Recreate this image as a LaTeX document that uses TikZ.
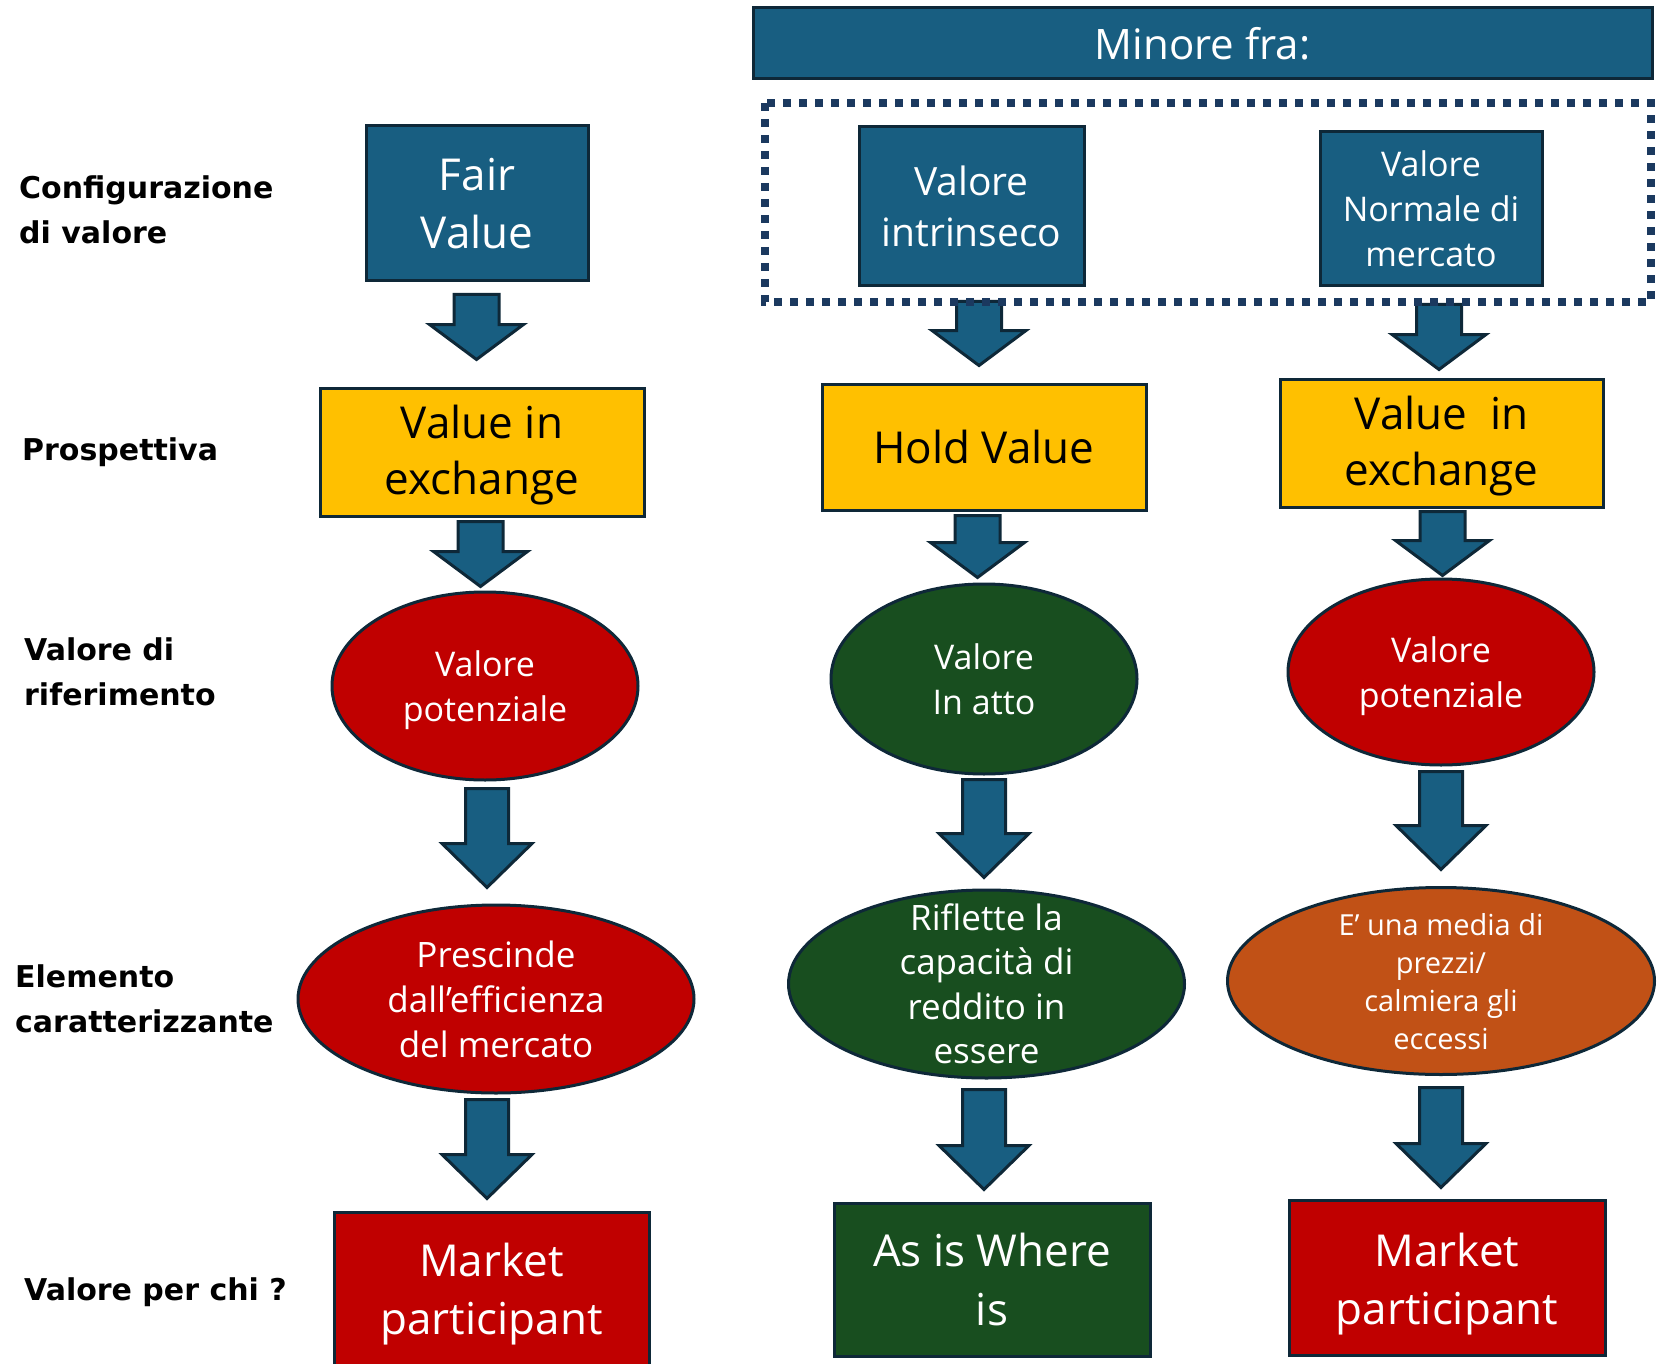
\documentclass[tikz,border=0pt]{standalone}
\usepackage{fontspec}
\setmainfont{Open Sans}
\newfontfamily\labfont{DejaVu Sans}
\usetikzlibrary{shapes.geometric,calc}

\definecolor{boxblue}{RGB}{24,94,129}
\definecolor{edge}{RGB}{14,40,56}
\definecolor{dotnavy}{RGB}{27,57,95}
\definecolor{gold}{RGB}{255,192,0}
\definecolor{deepred}{RGB}{192,0,0}
\definecolor{deepgreen}{RGB}{24,78,31}
\definecolor{burnt}{RGB}{193,81,22}

\newcommand\fs[2]{\fontsize{#1}{#2}\selectfont}

% block arrow pointing down: #1 top of shaft, #2 tip, #3 shaft half width,
% #4 head half width, #5 head length
\newcommand\blockarrow[5]{%
  \draw[barrow] let \p1=#1, \p2=#2 in
    (\x1-#3,\y1) -- (\x1+#3,\y1) -- (\x1+#3,\y2+#5) -- (\x1+#4,\y2+#5)
    -- (\x1,\y2) -- (\x1-#4,\y2+#5) -- (\x1-#3,\y2+#5) -- cycle;}

\begin{document}
\begin{tikzpicture}[x=1pt,y=-1pt,
  box/.style={draw=edge,line width=3pt,rectangle,inner sep=2pt,align=center},
  bluebox/.style={box,fill=boxblue,text=white},
  goldbox/.style={box,fill=gold,text=black,font=\fs{44}{56}},
  oval/.style={draw=edge,line width=3pt,ellipse,inner sep=0pt},
  ovaltext/.style={align=center,text=white,inner sep=0pt},
  barrow/.style={fill=boxblue,draw=edge,line width=3pt,line join=miter},
  rowlabel/.style={anchor=west,align=left,inner sep=0pt,font=\labfont\bfseries\fs{30}{45}}
]
\useasboundingbox (0,0) rectangle (1657,1364);
\clip (0,0) rectangle (1657,1364);

% row labels
\node[rowlabel] (lab1) at (19,209.5) {Configurazione\\di valore};
\node[rowlabel] (lab2) at (22,452) {Prospettiva};
\node[rowlabel] (lab3) at (24,671.5) {Valore di\\riferimento};
\node[rowlabel] (lab4) at (15,999) {Elemento\\caratterizzante};
\node[rowlabel] (lab5) at (24,1292) {Valore per chi ?};

% header
\node[bluebox,minimum width=899pt,minimum height=71pt,font=\fs{42}{50}]
  (title) at (1202.5,43.5) {Minore fra:};

% value configurations
\node[bluebox,minimum width=222pt,minimum height=155pt,font=\fs{44}{58}]
  (fair) at (477,203.5) {Fair\\Value};
\node[bluebox,minimum width=225pt,minimum height=159pt,font=\fs{39}{51}]
  (intr) at (971.5,206.5) {Valore\\intrinseco};
\node[bluebox,minimum width=222pt,minimum height=154pt,font=\fs{34}{45}]
  (norm) at (1431,209) {Valore\\Normale di\\mercato};

% perspectives
\node[goldbox,minimum width=324pt,minimum height=128pt] (pros1) at (482,452) {};
\node[ovaltext,text=black,font=\fs{44}{56}] (pros1t) at (482,455) {Value in\\exchange};
\node[goldbox,minimum width=324pt,minimum height=126pt] (pros2) at (984,447) {Hold Value};
\node[goldbox,minimum width=323pt,minimum height=128pt] (pros3) at (1441.5,443) {};
\node[ovaltext,text=black,font=\fs{44}{56}] (pros3t) at (1441.5,446.5) {Value~ in\\exchange};

% reference values
\node[oval,fill=deepred,minimum width=306pt,minimum height=188pt] (ref1) at (485,686) {};
\node[ovaltext,font=\fs{34}{45}] (ref1t) at ([yshift=-4pt]ref1.center) {Valore\\potenziale};
\node[oval,fill=deepgreen,minimum width=306pt,minimum height=190pt] (ref2) at (984,679) {};
\node[ovaltext,font=\fs{34}{45}] (ref2t) at (ref2.center) {Valore\\In atto};
\node[oval,fill=deepred,minimum width=306pt,minimum height=186pt] (ref3) at (1441,672) {};
\node[ovaltext,font=\fs{34}{45}] (ref3t) at ([yshift=-4pt]ref3.center) {Valore\\potenziale};

% characterising elements
\node[oval,fill=deepred,minimum width=396pt,minimum height=188pt] (car1) at (496,999) {};
\node[ovaltext,font=\fs{35}{45}] (car1t) at (car1.center) {Prescinde\\dall’efficienza\\del mercato};
\node[oval,fill=deepgreen,minimum width=396pt,minimum height=188pt] (car2) at (986.5,984) {};
\node[ovaltext,font=\fs{35}{44.5}] (car2t) at (car2.center) {Riflette la\\capacità di\\reddito in\\essere};
\node[oval,fill=burnt,minimum width=427pt,minimum height=187pt] (car3) at (1441,981) {};
\node[ovaltext,font=\fs{29}{38}] (car3t) at ([yshift=-1pt]car3.center) {E’ una media di\\prezzi/\\calmiera gli\\eccessi};

% for whom
\node[box,fill=deepred,minimum width=315pt,minimum height=163pt] (who1) at (491.5,1293.5) {};
\node[ovaltext,font=\fs{44}{58}] (who1t) at (491.5,1294.5) {Market\\participant};
\node[box,fill=deepgreen,text=white,minimum width=316pt,minimum height=153pt,font=\fs{44}{59}]
  (who2) at (992,1279.5) {As is Where\\is};
\node[box,fill=deepred,minimum width=316pt,minimum height=155pt] (who3) at (1447,1277.5) {};
\node[ovaltext,font=\fs{44}{58}] (who3t) at (1447,1284) {Market\\participant};

% arrows
\blockarrow{([xshift=-0.5pt,yshift=-12pt]fair.south)}{([yshift=27pt]pros1.north)}{22.5pt}{47pt}{35pt}
\blockarrow{([xshift=7.5pt,yshift=-14pt]intr.south)}{([yshift=17pt]pros2.north)}{22.5pt}{47pt}{35pt}
\blockarrow{([xshift=8pt,yshift=-17pt]norm.south)}{([yshift=8pt]pros3.north)}{22.5pt}{47pt}{35pt}

\blockarrow{([xshift=-1.5pt,yshift=-4pt]pros1.south)}{([yshift=4pt]ref1.north)}{22.5pt}{47pt}{35pt}
\blockarrow{([xshift=-6.5pt,yshift=-4pt]pros2.south)}{([yshift=5pt]ref2.north)}{22.5pt}{47pt}{35pt}
\blockarrow{([xshift=1pt,yshift=-3pt]pros3.south)}{([yshift=2pt]ref3.north)}{22.5pt}{47pt}{35pt}

\blockarrow{([xshift=2pt,yshift=-7pt]ref1.south)}{([yshift=16pt]car1.north)}{21.5pt}{45pt}{44pt}
\blockarrow{([yshift=-4pt]ref2.south)}{([yshift=11pt]car2.north)}{21.5pt}{45pt}{44pt}
\blockarrow{([yshift=-5pt]ref3.south)}{([yshift=16.5pt]car3.north)}{21.5pt}{45pt}{44pt}

\blockarrow{([xshift=-9pt,yshift=-5pt]car1.south)}{([yshift=12pt]who1.north)}{21.5pt}{45pt}{44pt}
\blockarrow{([xshift=-2.5pt,yshift=-10pt]car2.south)}{([yshift=12pt]who2.north)}{21.5pt}{45pt}{44pt}
\blockarrow{([yshift=-11.5pt]car3.south)}{([yshift=11pt]who3.north)}{21.5pt}{45pt}{44pt}

% dotted frame round the two compared values
\draw[dotnavy,line width=8pt,dash pattern=on 8pt off 8pt] (765,103) rectangle (1651,302);
\end{tikzpicture}
\end{document}
